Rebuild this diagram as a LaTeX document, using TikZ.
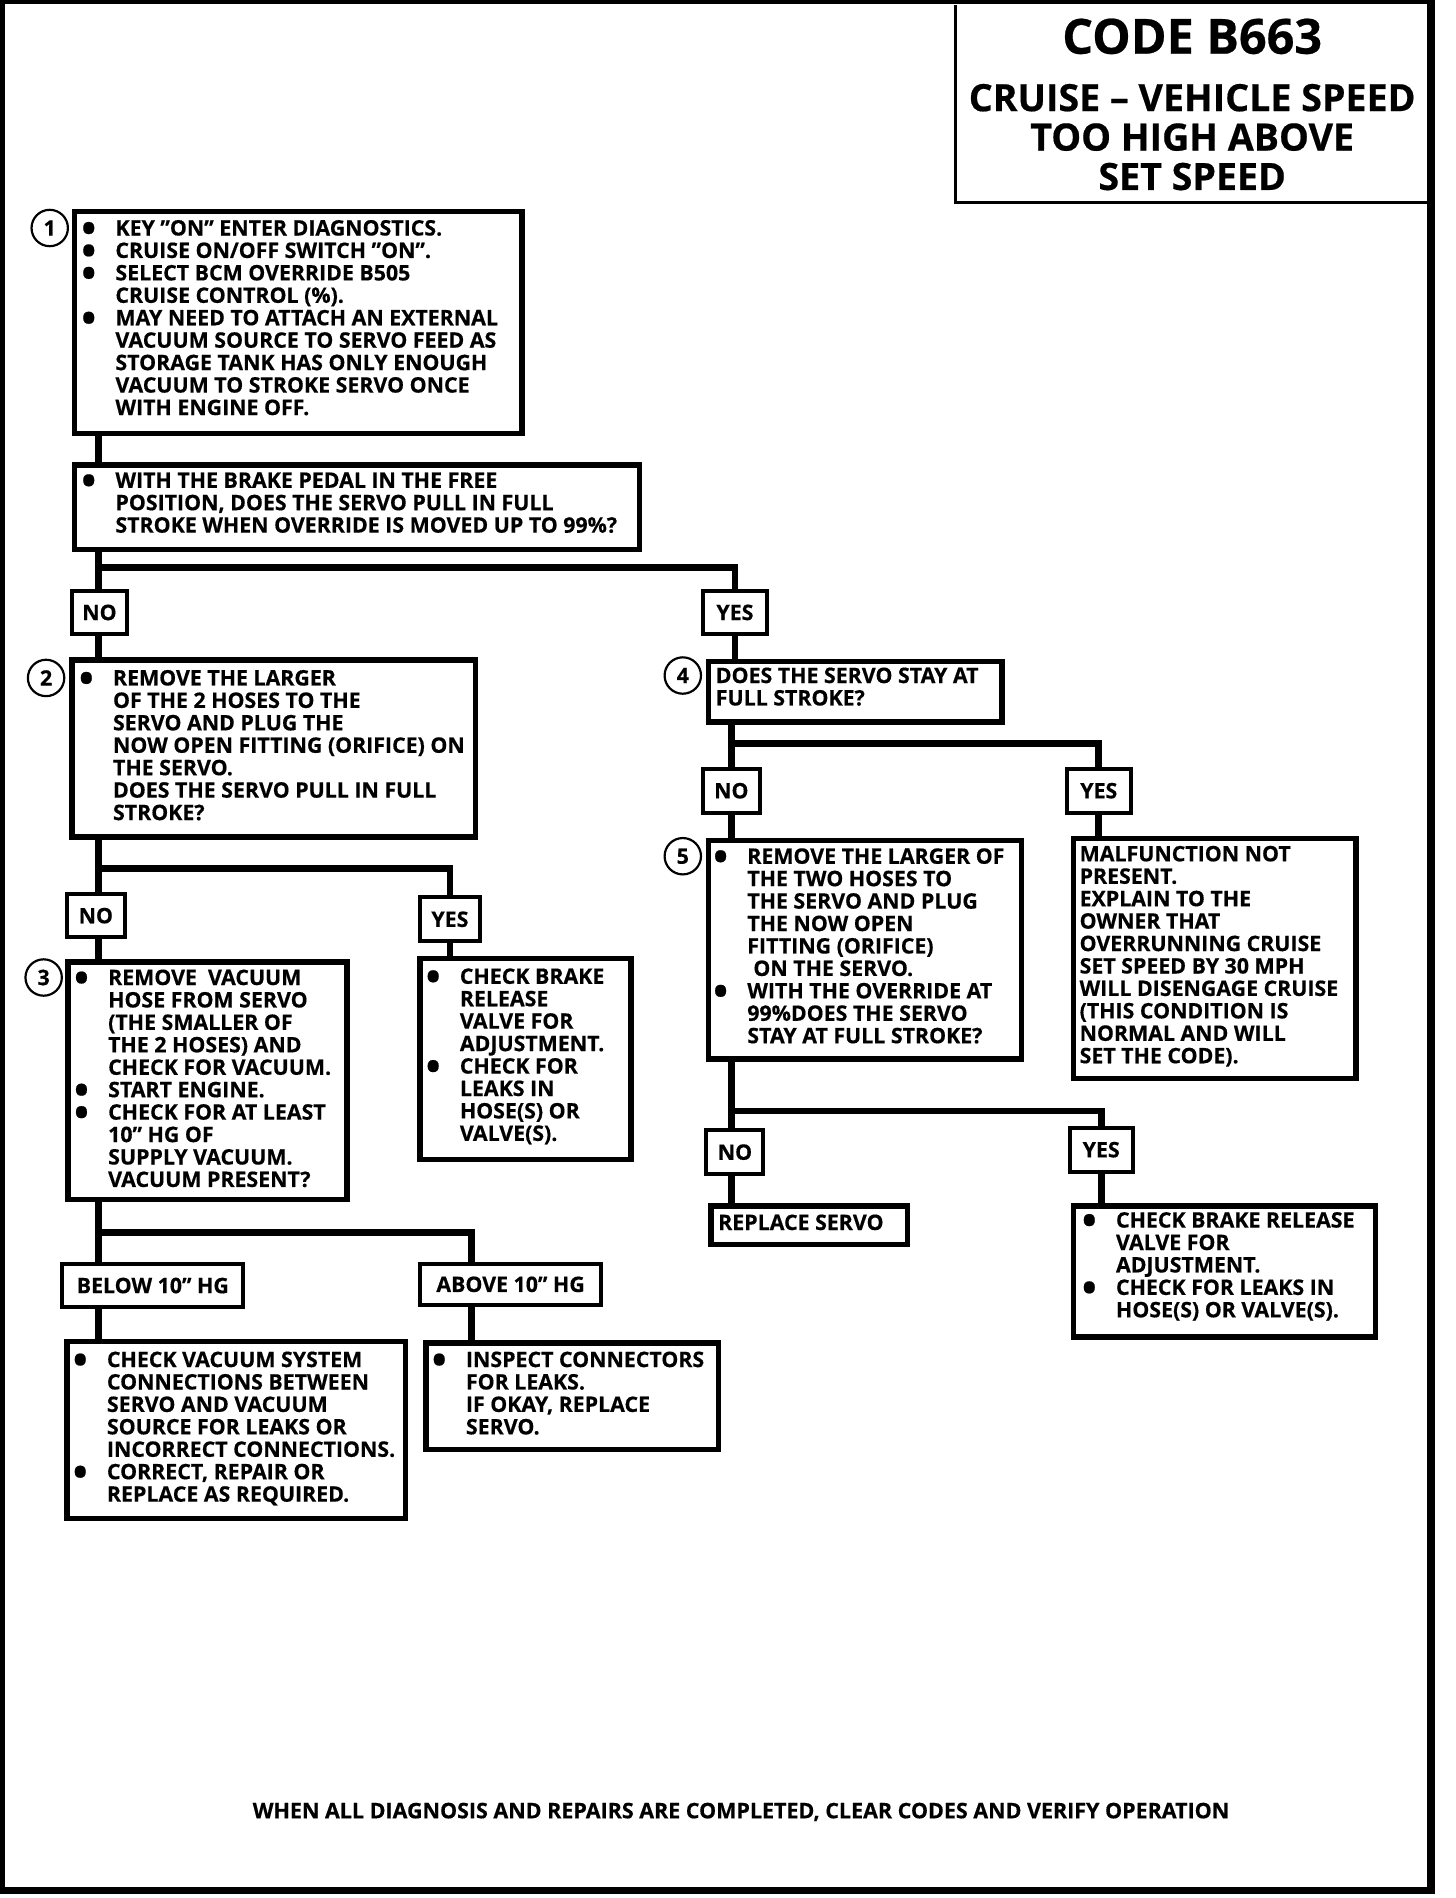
\documentclass[tikz,border=0pt]{standalone}
\usepackage{fontspec}
\setmainfont{Open Sans}[BoldFeatures={FakeBold=0.5}]
\newcommand\bodyf{\fontsize{17.6}{18.5}\selectfont\bfseries}
\newcommand\bul{\llap{\raisebox{-5.5pt}{\fontsize{32}{32}\selectfont •}\hspace{16pt}}}
\newcommand\fs{\rule{0pt}{14pt}}
\begin{document}
\begin{tikzpicture}[x=1pt,y=-1pt,
  box/.style={draw, line width=4.5pt, inner sep=0pt, anchor=north west, fill=white},
  lab/.style={draw, line width=3.3pt, inner sep=0pt, minimum height=36pt, font=\bodyf, fill=white},
  txt/.style={inner sep=0pt, anchor=north west, align=left, font=\bodyf},
  num/.style={draw, circle, line width=1.8pt, minimum size=30pt, inner sep=0pt, font=\bodyf, fill=white},
  conn/.style={line width=5.5pt},
  thinframe/.style={line width=2.5pt}]
\useasboundingbox (0,0) rectangle (1200,1565);

% page frame and title box
\draw[line width=4.5pt] (2,0) -- (2,1559);
\draw[line width=3pt] (0,1.5) -- (1180,1.5);
\draw[line width=6pt] (0,1559) -- (1180,1559);
\draw[line width=6pt] (1180,0) -- (1180,1562);
\draw[thinframe] (788,4) -- (788,167) -- (1180,167);
\node[font=\fontsize{40}{40}\selectfont\bfseries] (code) at (983,30) {CODE B663};
\node[font=\fontsize{31}{32.5}\selectfont\bfseries, align=center, anchor=north, inner sep=0pt] (title) at (983,69) {CRUISE – VEHICLE SPEED\\TOO HIGH ABOVE\\SET SPEED};

% boxes
\node[box, minimum width=369pt, minimum height=183pt] (b1) at (59,172) {};
\node[box, minimum width=466pt, minimum height=70pt] (bq) at (59,381) {};
\node[box, minimum width=333pt, minimum height=146pt] (b2) at (57,542) {};
\node[box, minimum width=242pt, minimum height=50pt] (b4) at (582,543) {};
\node[box, minimum width=258pt, minimum height=180pt] (b5) at (582,691) {};
\node[box, minimum width=233pt, minimum height=198pt] (bm) at (883,689) {};
\node[box, minimum width=230pt, minimum height=196pt] (b3) at (54,791) {};
\node[box, minimum width=174pt, minimum height=166pt] (byc) at (344,788) {};
\node[box, minimum width=279pt, minimum height=146pt] (bb) at (53,1104) {};
\node[box, minimum width=241pt, minimum height=88pt] (ba) at (349,1105) {};
\node[box, minimum width=162pt, minimum height=32pt] (brs) at (584,992) {};
\node[box, minimum width=249pt, minimum height=108pt] (byr) at (883,992) {};

% labels
\node[lab, minimum width=46pt] (no1) at (82,505) {NO};
\node[lab, minimum width=53pt] (yes1) at (606,505) {YES};
\node[lab, minimum width=48pt] (no2) at (79,755) {NO};
\node[lab, minimum width=49pt] (yes2) at (371,758) {YES};
\node[lab, minimum width=47pt] (no4) at (603,652) {NO};
\node[lab, minimum width=53pt] (yes4) at (906,652) {YES};
\node[lab, minimum width=149pt] (below) at (126,1060) {BELOW 10” HG};
\node[lab, minimum width=149pt, minimum height=34pt] (above) at (421,1059) {ABOVE 10” HG};
\node[lab, minimum width=47pt] (no5) at (606,950) {NO};
\node[lab, minimum width=52pt] (yes5) at (908,948) {YES};

% junctions
\coordinate (j1) at (81,468);
\coordinate (j2) at (81,716);
\coordinate (j3) at (81,1016);
\coordinate (j3r) at (389,1016);
\coordinate (j4) at (603,613);
\coordinate (j5) at (603,916);

% connectors
\draw[conn] (b1.south -| j1) -- (bq.north -| j1);
\draw[conn] (bq.south -| j1) -- (no1.north -| j1);
\draw[conn] (no1.south -| j1) -- (b2.north -| j1);
\draw[conn] (j1) -| (yes1.north);
\draw[conn] (yes1.south) -- (yes1.south |- b4.north);

\draw[conn] (b2.south -| j2) -- (no2.north -| j2);
\draw[conn] (no2.south -| j2) -- (b3.north -| j2);
\draw[conn] (j2) -| (yes2.north);
\draw[conn] (yes2.south) -- (yes2.south |- byc.north);

\draw[conn] (b3.south -| j3) -- (below.north -| j3);
\draw[conn] (below.south -| j3) -- (bb.north -| j3);
\draw[conn] (j3) -- (j3r) -- (above.north -| j3r);
\draw[conn] (above.south -| j3r) -- (ba.north -| j3r);

\draw[conn] (b4.south -| j4) -- (no4.north -| j4);
\draw[conn] (no4.south -| j4) -- (b5.north -| j4);
\draw[conn] (j4) -| (yes4.north);
\draw[conn] (yes4.south) -- (yes4.south |- bm.north);

\draw[conn] (b5.south -| j5) -- (no5.north -| j5);
\draw[conn] (no5.south -| j5) -- (brs.north -| j5);
\draw[conn] (j5) -| (yes5.north);
\draw[conn] (yes5.south) -- (yes5.south |- byr.north);

% circled numbers
\node[num] (c1) at (41,188) {1};
\node[num] (c2) at (38,559) {2};
\node[num] (c3) at (36,806) {3};
\node[num] (c4) at (563,557) {4};
\node[num] (c5) at (563,706) {5};

% texts
\node[txt] (t1) at (95,180) {\fs\bul KEY ”ON” ENTER DIAGNOSTICS.\\
\bul CRUISE ON/OFF SWITCH ”ON”.\\
\bul SELECT BCM OVERRIDE B505\\
CRUISE CONTROL (\%).\\
\bul MAY NEED TO ATTACH AN EXTERNAL\\
VACUUM SOURCE TO SERVO FEED AS\\
STORAGE TANK HAS ONLY ENOUGH\\
VACUUM TO STROKE SERVO ONCE\\
WITH ENGINE OFF.};

\node[txt] (tq) at (95,388) {\fs\bul WITH THE BRAKE PEDAL IN THE FREE\\
POSITION, DOES THE SERVO PULL IN FULL\\
STROKE WHEN OVERRIDE IS MOVED UP TO 99\%?};

\node[txt] (t2) at (93,551) {\fs\bul REMOVE THE LARGER\\
OF THE 2 HOSES TO THE\\
SERVO AND PLUG THE\\
NOW OPEN FITTING (ORIFICE) ON\\
THE SERVO.\\
DOES THE SERVO PULL IN FULL\\
STROKE?};

\node[txt] (t4) at (590,549) {\fs DOES THE SERVO STAY AT\\
FULL STROKE?};

\node[txt] (t5) at (616,698) {\fs\bul REMOVE THE LARGER OF\\
THE TWO HOSES TO\\
THE SERVO AND PLUG\\
THE NOW OPEN\\
FITTING (ORIFICE)\\
\hspace*{5pt}ON THE SERVO.\\
\bul WITH THE OVERRIDE AT\\
99\%DOES THE SERVO\\
STAY AT FULL STROKE?};

\node[txt] (tm) at (890,696) {\fs MALFUNCTION NOT\\
PRESENT.\\
EXPLAIN TO THE\\
OWNER THAT\\
OVERRUNNING CRUISE\\
SET SPEED BY 30 MPH\\
WILL DISENGAGE CRUISE\\
(THIS CONDITION IS\\
NORMAL AND WILL\\
SET THE CODE).};

\node[txt] (t3) at (89,798) {\fs\bul REMOVE\ \ VACUUM\\
HOSE FROM SERVO\\
(THE SMALLER OF\\
THE 2 HOSES) AND\\
CHECK FOR VACUUM.\\
\bul START ENGINE.\\
\bul CHECK FOR AT LEAST\\
10” HG OF\\
SUPPLY VACUUM.\\
VACUUM PRESENT?};

\node[txt] (tyc) at (379,797) {\fs\bul CHECK BRAKE\\
RELEASE\\
VALVE FOR\\
ADJUSTMENT.\\
\bul CHECK FOR\\
LEAKS IN\\
HOSE(S) OR\\
VALVE(S).};

\node[txt] (tb) at (88,1113) {\fs\bul CHECK VACUUM SYSTEM\\
CONNECTIONS BETWEEN\\
SERVO AND VACUUM\\
SOURCE FOR LEAKS OR\\
INCORRECT CONNECTIONS.\\
\bul CORRECT, REPAIR OR\\
REPLACE AS REQUIRED.};

\node[txt] (ta) at (384,1113) {\fs\bul INSPECT CONNECTORS\\
FOR LEAKS.\\
IF OKAY, REPLACE\\
SERVO.};

\node[txt] (trs) at (592,1000) {\fs REPLACE SERVO};

\node[txt] (tyr) at (920,998) {\fs\bul CHECK BRAKE RELEASE\\
VALVE FOR\\
ADJUSTMENT.\\
\bul CHECK FOR LEAKS IN\\
HOSE(S) OR VALVE(S).};

\node[font=\fontsize{17.7}{17.7}\selectfont\bfseries] (foot) at (611,1494) {WHEN ALL DIAGNOSIS AND REPAIRS ARE COMPLETED, CLEAR CODES AND VERIFY OPERATION};
\end{tikzpicture}
\end{document}
